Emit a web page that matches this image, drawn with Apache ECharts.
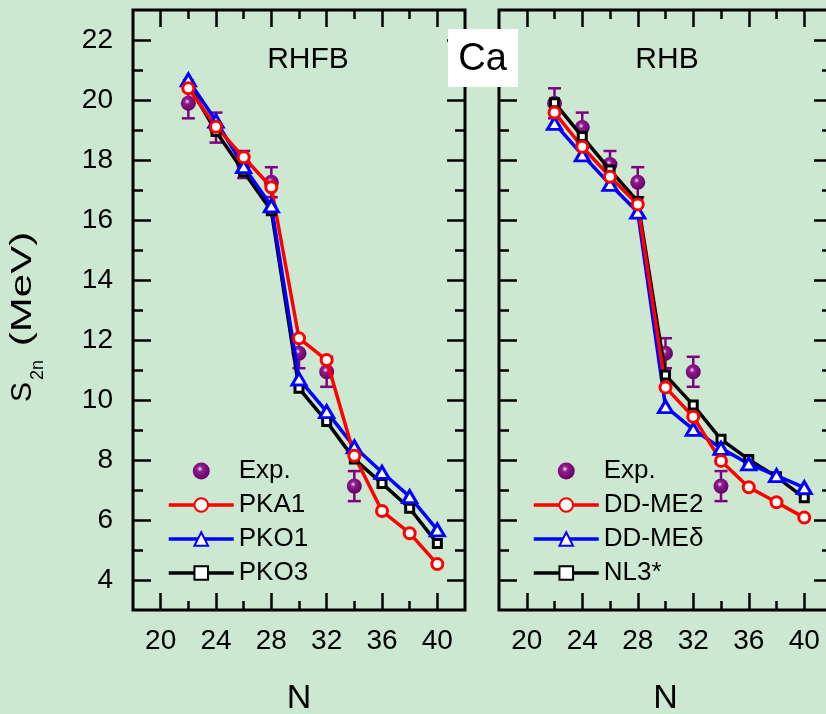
<!DOCTYPE html>
<html>
<head>
<meta charset="utf-8">
<script src="https://cdn.jsdelivr.net/npm/echarts@6.0.0/dist/echarts.min.js"></script>
<style>
  html, body { margin: 0; padding: 0; background: #cce8d0; }
  #chart { width: 826px; height: 714px; }
</style>
</head>
<body>
<div id="chart"></div>
<script>
  // neutron number
  const N = [22, 24, 26, 28, 30, 32, 34, 36, 38, 40];
  const expN = [22, 24, 26, 28, 30, 32, 34];
  const expS2n = [19.89, 19.08, 17.85, 17.26, 11.56, 10.94, 7.13];
  const expErr = [0.5, 0.5, 0.45, 0.5, 0.5, 0.5, 0.5];

  // RHFB
  const pka1 = [20.39, 19.11, 18.09, 17.09, 12.06, 11.33, 8.14, 6.30, 5.56, 4.53];
  const pko1 = [20.67, 19.30, 17.78, 16.47, 10.70, 9.61, 8.44, 7.59, 6.78, 5.67];
  const pko3 = [20.52, 18.95, 17.61, 16.31, 10.39, 9.28, 8.03, 7.22, 6.39, 5.22];

  // RHB
  const ddme2 = [19.58, 18.44, 17.44, 16.52, 10.42, 9.44, 7.97, 7.09, 6.59, 6.08];
  const ddmed = [19.22, 18.17, 17.19, 16.26, 9.78, 9.02, 8.39, 7.87, 7.48, 7.08];
  const nl3 = [19.91, 18.78, 17.67, 16.62, 10.83, 9.83, 8.69, 8.02, 7.44, 6.74];

  // ticks
  const xTicks = [20, 24, 28, 32, 36, 40];
  const xMinor = [22, 26, 30, 34, 38];
  const yTicks = [4, 6, 8, 10, 12, 14, 16, 18, 20, 22];
  const yMinor = [5, 7, 9, 11, 13, 15, 17, 19, 21];

  const FONT = 'Liberation Sans, Arial, sans-serif';
  const pair = (xs, ys) => xs.map((x, i) => [x, ys[i]]);

  function xAxes(gi) {
    const base = {
      gridIndex: gi, type: 'value', min: 18, max: 42,
      axisLine: { show: false }, splitLine: { show: false }
    };
    return [
      Object.assign({}, base, {
        position: 'bottom',
        axisTick: { inside: true, length: 17, customValues: xTicks, lineStyle: { color: '#000', width: 2.5 } },
        axisLabel: { customValues: xTicks, fontSize: 28, margin: 17, color: '#000', fontFamily: FONT },
        name: 'N', nameLocation: 'middle', nameGap: 72,
        nameTextStyle: { fontSize: 34, color: '#000', fontFamily: FONT }
      }),
      Object.assign({}, base, {
        position: 'bottom',
        axisTick: { inside: true, length: 9, customValues: xMinor, lineStyle: { color: '#000', width: 2.5 } },
        axisLabel: { show: false }
      }),
      Object.assign({}, base, {
        position: 'top',
        axisTick: { inside: true, length: 17, customValues: xTicks, lineStyle: { color: '#000', width: 2.5 } },
        axisLabel: { show: false }
      }),
      Object.assign({}, base, {
        position: 'top',
        axisTick: { inside: true, length: 9, customValues: xMinor, lineStyle: { color: '#000', width: 2.5 } },
        axisLabel: { show: false }
      })
    ];
  }

  function yAxes(gi, labels) {
    const base = {
      gridIndex: gi, type: 'value', min: 3, max: 23,
      axisLine: { show: false }, splitLine: { show: false }
    };
    return [
      Object.assign({}, base, {
        position: 'left',
        axisTick: { inside: true, length: 18, customValues: yTicks, lineStyle: { color: '#000', width: 2.5 } },
        axisLabel: labels
          ? { customValues: yTicks, fontSize: 28, margin: 20, color: '#000', fontFamily: FONT }
          : { show: false }
      }),
      Object.assign({}, base, {
        position: 'left',
        axisTick: { inside: true, length: 10, customValues: yMinor, lineStyle: { color: '#000', width: 2.5 } },
        axisLabel: { show: false }
      }),
      Object.assign({}, base, {
        position: 'right',
        axisTick: { inside: true, length: 18, customValues: yTicks, lineStyle: { color: '#000', width: 2.5 } },
        axisLabel: { show: false }
      }),
      Object.assign({}, base, {
        position: 'right',
        axisTick: { inside: true, length: 10, customValues: yMinor, lineStyle: { color: '#000', width: 2.5 } },
        axisLabel: { show: false }
      })
    ];
  }

  const ballColor = {
    type: 'radial', x: 0.42, y: 0.38, r: 0.62,
    colorStops: [
      { offset: 0, color: '#f6dcf6' },
      { offset: 0.28, color: '#8e1c8e' },
      { offset: 1, color: '#660066' }
    ]
  };

  function errRender(params, api) {
    const x = api.value(0), y = api.value(1), e = api.value(2);
    const top = api.coord([x, y + e]);
    const bot = api.coord([x, y - e]);
    const w = 6.5;
    const style = { stroke: '#800080', lineWidth: 2.5, fill: null };
    return {
      type: 'group',
      children: [
        { type: 'line', shape: { x1: top[0], y1: top[1], x2: bot[0], y2: bot[1] }, style: style },
        { type: 'line', shape: { x1: top[0] - w, y1: top[1], x2: top[0] + w, y2: top[1] }, style: style },
        { type: 'line', shape: { x1: bot[0] - w, y1: bot[1], x2: bot[0] + w, y2: bot[1] }, style: style }
      ]
    };
  }

  function expSeries(gi) {
    return [
      {
        name: 'Exp. error', type: 'custom', xAxisIndex: gi * 4, yAxisIndex: gi * 4,
        renderItem: errRender,
        data: expN.map((n, i) => [n, expS2n[i], expErr[i]]),
        silent: true, animation: false, z: 2
      },
      {
        name: 'Exp.', type: 'scatter', xAxisIndex: gi * 4, yAxisIndex: gi * 4,
        symbol: 'circle', symbolSize: 15,
        itemStyle: { color: ballColor, opacity: 1 },
        data: pair(expN, expS2n), animation: false, z: 2
      }
    ];
  }

  function lineSeries(gi, name, vals, color, symbol, size) {
    return {
      name: name, type: 'line', xAxisIndex: gi * 4, yAxisIndex: gi * 4,
      data: pair(N, vals),
      symbol: symbol, symbolSize: size, showAllSymbol: true,
      lineStyle: { color: color, width: 3.5 },
      itemStyle: { color: '#fff', borderColor: color, borderWidth: 3 },
      animation: false, z: 3
    };
  }

  const legendBase = {
    orient: 'vertical', padding: 0, itemWidth: 65, itemHeight: 17, itemGap: 8,
    textStyle: { fontSize: 26, color: '#000', fontFamily: FONT },
    lineStyle: { width: 3.5 },
    selectedMode: false
  };

  const gridBase = {
    top: 10, height: 600, show: true, borderColor: '#000', borderWidth: 3,
    backgroundColor: 'transparent', containLabel: false, outerBoundsMode: 'none'
  };

  const option = {
    backgroundColor: '#cce8d0',
    textStyle: { fontFamily: FONT },
    grid: [
      Object.assign({}, gridBase, { left: 133, width: 332 }),
      Object.assign({}, gridBase, { left: 499, width: 333 })
    ],
    xAxis: xAxes(0).concat(xAxes(1)),
    yAxis: yAxes(0, true).concat(yAxes(1, false)),
    legend: [
      Object.assign({}, legendBase, { left: 167, top: 458, data: ['Exp.', 'PKA1', 'PKO1', 'PKO3'] }),
      Object.assign({}, legendBase, { left: 532, top: 458, data: ['Exp.', 'DD-ME2', 'DD-MEδ', 'NL3*'] })
    ],
    graphic: [
      { type: 'text', x: 308, y: 60, style: { text: 'RHFB', font: '30px ' + FONT, fill: '#000', textAlign: 'center', textVerticalAlign: 'middle' } },
      { type: 'text', x: 667, y: 60, style: { text: 'RHB', font: '30px ' + FONT, fill: '#000', textAlign: 'center', textVerticalAlign: 'middle' } },
      { type: 'rect', z: 100, shape: { x: 448, y: 29, width: 70, height: 58 }, style: { fill: '#fff' } },
      { type: 'text', z: 101, x: 482.5, y: 60, style: { text: 'Ca', font: '38px ' + FONT, fill: '#000', textAlign: 'center', textVerticalAlign: 'middle' } },
      { type: 'text', x: 22.5, y: 392, rotation: Math.PI / 2, style: { text: 'S', font: '30px ' + FONT, fill: '#000', textAlign: 'center', textVerticalAlign: 'middle' } },
      { type: 'text', x: 38, y: 370, rotation: Math.PI / 2, style: { text: '2n', font: '18px ' + FONT, fill: '#000', textAlign: 'center', textVerticalAlign: 'middle' } },
      { type: 'text', x: 22.5, y: 289, rotation: Math.PI / 2, scaleX: 1.4, style: { text: '(MeV)', font: '30px ' + FONT, fill: '#000', textAlign: 'center', textVerticalAlign: 'middle' } }
    ],
    series: [].concat(
      expSeries(0),
      [
        lineSeries(0, 'PKO3', pko3, '#000', 'rect', 8),
        lineSeries(0, 'PKO1', pko1, '#0000ff', 'triangle', [14, 12]),
        lineSeries(0, 'PKA1', pka1, '#ff0000', 'circle', 11)
      ],
      expSeries(1),
      [
        lineSeries(1, 'NL3*', nl3, '#000', 'rect', 8),
        lineSeries(1, 'DD-MEδ', ddmed, '#0000ff', 'triangle', [14, 12]),
        lineSeries(1, 'DD-ME2', ddme2, '#ff0000', 'circle', 11)
      ]
    )
  };

  const chart = echarts.init(document.getElementById('chart'), null, { renderer: 'canvas' });
  chart.setOption(option);
  window.addEventListener('resize', () => chart.resize());
</script>
</body>
</html>
